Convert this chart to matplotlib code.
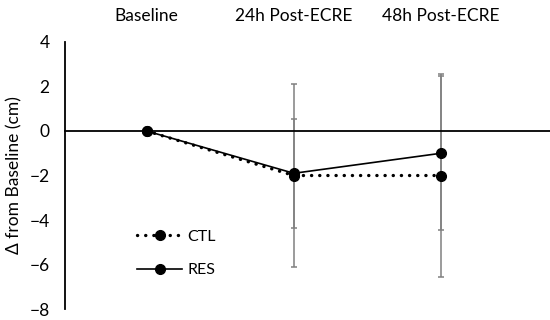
import matplotlib.pyplot as plt
import numpy as np

plt.rcParams['font.family'] = ['Lato', 'DejaVu Sans']

timepoints = ["Baseline", "24h Post-ECRE", "48h Post-ECRE"]
ctl_mean = [0.0, -2.0, -2.0]
ctl_sd = [0.0, 4.1, 4.55]
res_mean = [0.0, -1.9, -1.0]
res_sd = [0.0, 2.45, 3.45]

x = np.arange(len(timepoints))

fig = plt.figure(figsize=(5.5, 3.2), dpi=100)
ax = fig.add_axes([0.118, 0.034, 0.882, 0.835])

# error bars (grey, drawn under the lines)
for m, s in [(ctl_mean, ctl_sd), (res_mean, res_sd)]:
    idx = [i for i in range(len(s)) if s[i] > 0]
    ax.errorbar(x[idx], np.array(m)[idx], yerr=np.array(s)[idx], fmt='none',
                ecolor='#808080', elinewidth=1.1, capsize=2.5, capthick=1.1, zorder=2)

ax.plot(x, ctl_mean, linestyle=(0, (0.05, 2.4)), dash_capstyle='round', linewidth=2.4,
        color='black', marker='o', markersize=7, label='CTL', zorder=3)
ax.plot(x, res_mean, linestyle='-', linewidth=1.2,
        color='black', marker='o', markersize=7, label='RES', zorder=4)

ax.set_xlim(-0.555, 2.74)
ax.set_ylim(-8, 4)
ax.set_yticks(np.arange(-8, 5, 2))
ax.set_xticks(x)
ax.set_xticklabels(timepoints)
ax.xaxis.tick_top()
ax.tick_params(axis='x', length=0, pad=13, labelsize=12.5)
ax.tick_params(axis='y', length=0, pad=11, labelsize=12.5)

ax.spines['top'].set_visible(False)
ax.spines['right'].set_visible(False)
ax.spines['bottom'].set_position(('data', 0))
ax.spines['bottom'].set_linewidth(1.3)
ax.spines['left'].set_linewidth(1.3)

ax.set_ylabel("Δ from Baseline (cm)", fontsize=12.5, labelpad=5)

ax.legend(loc='lower left', bbox_to_anchor=(0.12, 0.065), frameon=False,
          fontsize=11.5, handlelength=2.8, labelspacing=1.2, handletextpad=0.3)

fig.savefig("out.png", dpi=100)
